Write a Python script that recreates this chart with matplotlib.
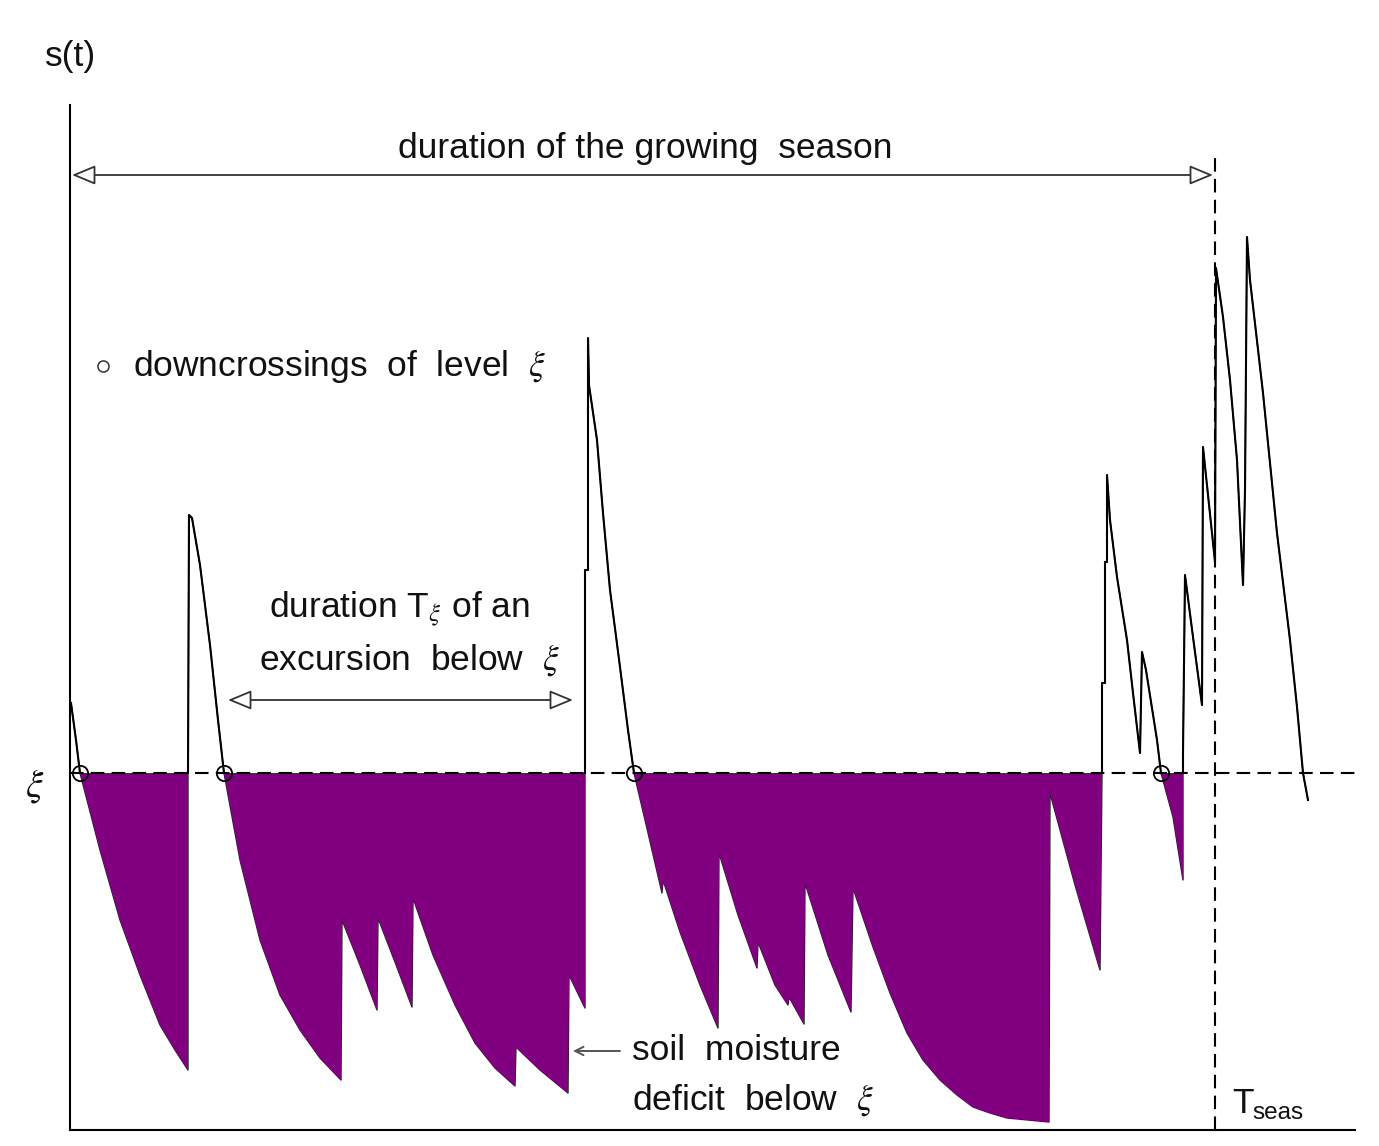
import numpy as np
import matplotlib
matplotlib.use("Agg")
import matplotlib.pyplot as plt

plt.rcParams['font.family'] = ['Liberation Sans', 'DejaVu Sans']
plt.rcParams['mathtext.fontset'] = 'stix'

# ---------------- data (t in days, s relative soil moisture) ----------------
XI = 0.357          # threshold level xi
T_SEAS = 229.0      # end of the growing season

t = [0.2, 1.2, 2.0, 6.0, 10.0, 14.0, 18.0, 21.0, 23.6,
     23.6, 23.8, 24.4, 26.0, 28.0, 29.6, 30.8,
     34.0, 38.0, 42.0, 46.0, 50.0, 54.2,
     54.4, 58.0, 61.4,
     61.6, 65.0, 68.4,
     68.6, 72.6, 77.0, 81.0, 85.0, 89.0,
     89.2, 94.0, 99.6,
     99.8, 103.0,
     103.0, 103.0, 103.6, 103.6,
     103.8, 105.4, 106.6, 108.0, 110.0, 111.6, 112.8,
     115.0, 118.4,
     118.6, 122.0, 126.0, 129.6,
     129.8, 133.6, 137.4,
     137.6, 141.0, 143.6,
     143.8, 146.8,
     147.0, 151.6, 156.2,
     156.6, 160.6, 164.0, 167.4, 170.6, 174.0, 177.4, 180.6, 184.0, 187.4, 191.6, 195.8,
     196.0, 201.0, 206.0,
     206.4, 206.4, 207.0, 207.0, 207.4, 207.4,
     208.0, 209.4, 211.4, 212.6, 214.0,
     214.4, 215.2, 217.4, 218.2,
     220.6, 222.6,
     222.6, 222.6, 223.0, 224.6, 226.4,
     226.6, 229.0,
     229.2, 230.6, 232.0, 233.4, 234.6,
     235.0, 235.4, 236.0, 238.6, 241.4, 244.0, 245.4, 246.6, 247.6]

s = [0.427, 0.390, 0.357, 0.280, 0.210, 0.155, 0.105, 0.080, 0.060,
     0.357, 0.615, 0.612, 0.565, 0.485, 0.410, 0.357,
     0.270, 0.190, 0.135, 0.100, 0.072, 0.050,
     0.210, 0.165, 0.120,
     0.212, 0.168, 0.123,
     0.232, 0.175, 0.125, 0.087, 0.062, 0.044,
     0.083, 0.060, 0.037,
     0.155, 0.122,
     0.357, 0.560, 0.560, 0.792,
     0.745, 0.690, 0.617, 0.540, 0.463, 0.400, 0.357,
     0.310, 0.237,
     0.250, 0.198, 0.145, 0.102,
     0.277, 0.215, 0.162,
     0.188, 0.145, 0.125,
     0.133, 0.106,
     0.247, 0.175, 0.118,
     0.242, 0.183, 0.137, 0.097, 0.070, 0.050, 0.035, 0.023, 0.017, 0.012, 0.010, 0.008,
     0.337, 0.245, 0.160,
     0.357, 0.447, 0.447, 0.568, 0.568, 0.655,
     0.610, 0.553, 0.490, 0.437, 0.377,
     0.478, 0.460, 0.390, 0.357,
     0.313, 0.250,
     0.357, 0.377, 0.555, 0.493, 0.425,
     0.683, 0.568,
     0.862, 0.813, 0.750, 0.670, 0.545,
     0.640, 0.893, 0.850, 0.737, 0.597, 0.490, 0.423, 0.357, 0.330]

downcross_t = [2.0, 30.8, 112.8, 218.2]
excursion = [31.6, 100.6]   # span of the marked excursion arrow

t = np.array(t)
s = np.array(s)

# ---------------- figure ----------------
W, H = 1379, 1146
fig = plt.figure(figsize=(W / 100, H / 100), dpi=100)
ax = fig.add_axes([70 / W, 16 / H, 1285 / W, 1025 / H])
ax.set_xlim(0, 257)
ax.set_ylim(0, 1.025)
for side in ('top', 'right'):
    ax.spines[side].set_visible(False)
for side in ('left', 'bottom'):
    ax.spines[side].set_linewidth(1.5)
ax.set_xticks([])
ax.set_yticks([])

def fp(x, y):
    return (x / W, 1 - y / H)

# thin trace underneath (gives dark edge to the deficit areas)
ax.plot(t, s, color='#222222', lw=1.0, zorder=2)
# deficit below xi
ax.fill_between(t, s, XI, where=(s <= XI) & (t <= T_SEAS), interpolate=True,
                color='#800080', lw=0, zorder=3)
# trace above xi
mask = (s < XI - 1e-9) & (t < T_SEAS)
ax.plot(t, np.ma.masked_where(mask, s), color='black', lw=1.5, zorder=4)

# xi level and season end
ax.axhline(XI, color='black', lw=1.5, dashes=(6.5, 3.5), zorder=5)
ax.plot([T_SEAS, T_SEAS], [0, 0.975], color='black', lw=1.5, dashes=(6.5, 3.5), zorder=5)

# downcrossings
ax.plot(downcross_t, [XI] * len(downcross_t), 'o', ms=11, mfc='none', mec='black',
        mew=1.3, zorder=6)

# arrows
astyle = dict(arrowstyle='<|-|>,head_length=1.45,head_width=0.6', mutation_scale=10,
              fc='white', ec='#333333', lw=1.3, shrinkA=0, shrinkB=0)
ax.annotate('', xy=(0.4, 0.955), xytext=(T_SEAS - 0.4, 0.955), arrowprops=astyle)
ax.annotate('', xy=(excursion[0], 0.430), xytext=(excursion[1], 0.430), arrowprops=astyle)
ax.annotate('', xy=fp(573, 1051), xytext=fp(620, 1051), xycoords='figure fraction',
            textcoords='figure fraction',
            arrowprops=dict(arrowstyle='->,head_length=0.5,head_width=0.25',
                            mutation_scale=12, color='#555555', lw=1.4,
                            shrinkA=0, shrinkB=0))

fs = 25.5
txt = dict(fontsize=fs, color='#111111')
fig.text(*fp(45, 66), 's(t)', ha='left', va='baseline', **txt)
fig.text(*fp(35, 786), r'$\xi$', ha='center', va='center', fontsize=28, color='#111111')
fig.text(*fp(645, 158), 'duration of the growing  season', ha='center', va='baseline', **txt)
ax.plot([6.6], [0.764], 'o', ms=8, mfc='none', mec='#333333', mew=1.1, zorder=6)
fig.text(*fp(133, 376), r'downcrossings  of  level  $\xi$', ha='left', va='baseline', **txt)
fig.text(*fp(399, 618), r'duration T$_{\xi}$ of an', ha='center', va='baseline', **txt)
fig.text(*fp(409, 670), r'excursion  below  $\xi$', ha='center', va='baseline', **txt)
fig.text(*fp(632, 1060), 'soil  moisture', ha='left', va='baseline', **txt)
fig.text(*fp(632, 1110), r'deficit  below  $\xi$', ha='left', va='baseline', **txt)
fig.text(*fp(1232, 1113), 'T', ha='left', va='baseline', **txt)
fig.text(*fp(1252, 1119), 'seas', ha='left', va='baseline', fontsize=17.5, color='#111111')

fig.savefig('out.png', dpi=100, facecolor='white')
